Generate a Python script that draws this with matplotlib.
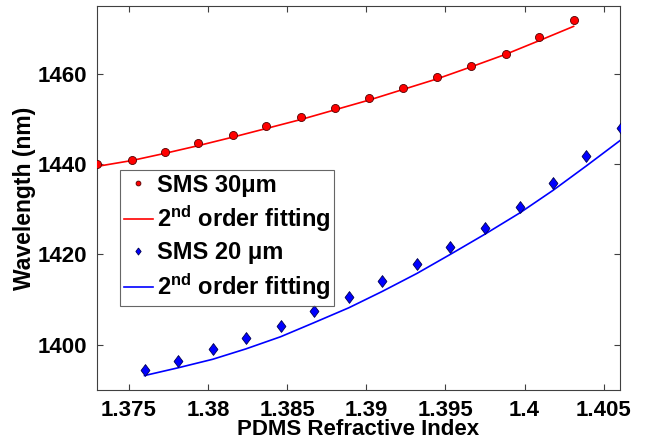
import numpy as np
import matplotlib
matplotlib.use("Agg")
import matplotlib.pyplot as plt

# SMS 30 um measured resonance wavelengths
ri_30 = [1.3730, 1.3752, 1.3773, 1.3794, 1.3816, 1.3837, 1.3859, 1.3880,
         1.3902, 1.3923, 1.3945, 1.3966, 1.3988, 1.4009, 1.4031]
wl_30 = [1440.0, 1440.9, 1442.6, 1444.6, 1446.5, 1448.4, 1450.4, 1452.5,
         1454.6, 1456.9, 1459.3, 1461.8, 1464.4, 1468.1, 1471.8]
fit_30 = [1439.5, 1440.8, 1442.4, 1444.1, 1446.0, 1447.9, 1449.9, 1452.0,
          1454.2, 1456.5, 1458.9, 1461.5, 1464.3, 1467.3, 1470.5]

# SMS 20 um measured resonance wavelengths
ri_20 = [1.3760, 1.3781, 1.3803, 1.3824, 1.3846, 1.3867, 1.3889, 1.3910,
         1.3932, 1.3953, 1.3975, 1.3997, 1.4018, 1.4039, 1.4061]
wl_20 = [1394.4, 1396.5, 1399.0, 1401.6, 1404.2, 1407.5, 1410.5, 1414.2,
         1418.0, 1421.7, 1425.9, 1430.6, 1435.9, 1441.7, 1447.9]
fit_20 = [1393.2, 1394.9, 1396.8, 1399.1, 1401.8, 1404.9, 1408.2, 1411.8,
          1415.8, 1420.0, 1424.5, 1429.2, 1434.2, 1439.6, 1445.4]

x_ticks = [1.375, 1.38, 1.385, 1.39, 1.395, 1.4, 1.405]
x_ticklabels = ["1.375", "1.38", "1.385", "1.39", "1.395", "1.4", "1.405"]
y_ticks = [1400, 1420, 1440, 1460]

plt.rcParams["font.family"] = ["Liberation Sans", "DejaVu Sans"]
plt.rcParams["font.weight"] = "bold"
plt.rcParams["mathtext.fontset"] = "custom"
plt.rcParams["mathtext.rm"] = "Liberation Sans:bold"
plt.rcParams["mathtext.bf"] = "Liberation Sans:bold"
plt.rcParams["mathtext.it"] = "Liberation Sans:bold:italic"

# matlab style diamond, a bit wider than matplotlib's thin one
diamond = [(0, 1), (0.75, 0), (0, -1), (-0.75, 0), (0, 1)]

fig = plt.figure(figsize=(6.52, 4.43), dpi=100)
ax = fig.add_axes([0.1488, 0.1196, 0.8014, 0.8668])

ax.plot(ri_30, wl_30, "o", color="red", markeredgecolor="#500000",
        markeredgewidth=0.6, markersize=5.8, label="SMS 30μm", zorder=3)
ax.plot(ri_30, fit_30, "-", color="red", lw=1.2,
        label=r"2$^{\rm nd}$ order fitting")
ax.plot(ri_20, wl_20, marker=diamond, ls="none", color="blue",
        markeredgecolor="#000050", markeredgewidth=0.6, markersize=8.5,
        label="SMS 20 μm", zorder=3)
ax.plot(ri_20, fit_20, "-", color="blue", lw=1.2,
        label=r"2$^{\rm nd}$ order fitting")

ax.set_xlim(1.373, 1.406)
ax.set_ylim(1390, 1475)
ax.set_xticks(x_ticks)
ax.set_xticklabels(x_ticklabels)
ax.set_yticks(y_ticks)
ax.tick_params(direction="in", length=4, width=0.8, color="#404040",
               top=True, right=True, labelsize=16, pad=7)
for s in ax.spines.values():
    s.set_color("#404040")
    s.set_linewidth(0.8)

ax.set_xlabel("PDMS Refractive Index", fontsize=16, fontweight="bold", labelpad=-1)
ax.set_ylabel("Wavelength (nm)", fontsize=16.5, fontweight="bold", labelpad=1)

leg = ax.legend(loc="upper left", bbox_to_anchor=(0.044, 0.573), borderaxespad=0,
                fontsize=17, frameon=True, fancybox=False, edgecolor="#404040",
                handlelength=1.25, handletextpad=0.15, labelspacing=0.3,
                borderpad=0.15, markerscale=0.6)
leg.get_frame().set_linewidth(0.8)

fig.savefig("out.png", dpi=100)
